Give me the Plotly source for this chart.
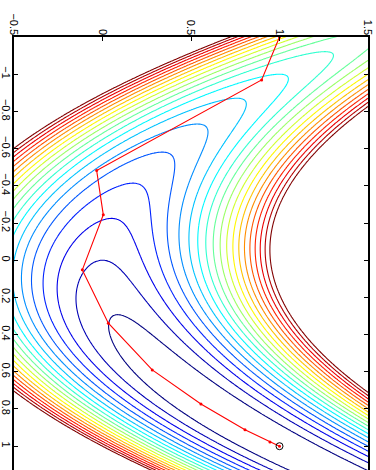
import numpy as np
import plotly.graph_objects as go

# Objective shown by the contours: f(x, y) = (1 - x)^2 + b * (y - x^2)^2
coef_b = 10.0
contour_start = 0.5
contour_end = 10.0
contour_step = 0.5

# Optimisation path (x = first variable, y = second)
path_x = [-1.2, -0.969, -0.482, -0.244, 0.052, 0.339, 0.590, 0.773, 0.912, 0.977, 1.0]
path_y = [1.0, 0.899, -0.033, 0.0045, -0.114, 0.033, 0.281, 0.556, 0.805, 0.946, 1.0]
minimum_x = [1.0]
minimum_y = [1.0]

# Axis ticks (the figure is rotated: y runs along the top, x down the side)
top_tickvals = [-0.5, 0, 0.5, 1, 1.5]
top_ticktext = ["\u22120.5", "0", "0.5", "1", "1.5"]
side_tickvals = [-1, -0.8, -0.6, -0.4, -0.2, 0, 0.2, 0.4, 0.6, 0.8, 1]
side_ticktext = ["\u22121", "\u22120.8", "\u22120.6", "\u22120.4", "\u22120.2", "0",
                 "0.2", "0.4", "0.6", "0.8", "1"]

xs = np.linspace(-1.3, 1.3, 401)
ys = np.linspace(-0.6, 1.6, 401)
XX, YY = np.meshgrid(xs, ys, indexing="ij")
Z = (1 - XX) ** 2 + coef_b * (YY - XX ** 2) ** 2

jet = [[0, "rgb(0,0,128)"], [0.125, "rgb(0,0,255)"], [0.375, "rgb(0,255,255)"],
       [0.625, "rgb(255,255,0)"], [0.875, "rgb(255,0,0)"], [1, "rgb(128,0,0)"]]

fig = go.Figure()
fig.add_trace(go.Contour(
    x=ys, y=xs, z=Z,
    contours=dict(start=contour_start, end=contour_end, size=contour_step, coloring="lines"),
    colorscale=jet, zmin=contour_start, zmax=contour_end, zauto=False,
    line=dict(width=1.1), showscale=False, hoverinfo="skip",
))
fig.add_trace(go.Scatter(
    x=path_y, y=path_x, mode="lines+markers",
    line=dict(color="red", width=1.1),
    marker=dict(color="red", size=3),
    hoverinfo="skip", showlegend=False,
))
fig.add_trace(go.Scatter(
    x=minimum_y, y=minimum_x, mode="markers",
    marker=dict(symbol="circle-open", color="black", size=7, line=dict(width=1)),
    hoverinfo="skip", showlegend=False,
))

font = dict(family="Liberation Sans, Arial, sans-serif", size=11, color="black")
fig.update_layout(
    width=376, height=470,
    margin=dict(l=14, r=8, t=37, b=0, pad=0, autoexpand=False),
    paper_bgcolor="white", plot_bgcolor="white",
    showlegend=False, font=font,
    xaxis=dict(range=[-0.5, 1.5], side="top", tickvals=top_tickvals, ticktext=top_ticktext,
               ticks="inside", ticklen=4, tickwidth=1, tickcolor="black",
               showline=True, linewidth=2, linecolor="black", mirror=False,
               showgrid=False, zeroline=False, tickangle=90, tickfont=font,
               automargin=False, ticklabelstandoff=-4),
    yaxis=dict(range=[1.128, -1.2], tickvals=side_tickvals, ticktext=side_ticktext,
               ticks="inside", ticklen=4, tickwidth=1, tickcolor="black",
               showline=True, linewidth=2, linecolor="black", mirror="ticks",
               showgrid=False, zeroline=False, tickangle=90, tickfont=font,
               automargin=False, ticklabelstandoff=-3),
)
fig.write_html("out.html",
               config={"displayModeBar": False, "staticPlot": True},
               post_script="document.body.style.margin='0';document.body.style.overflow='hidden';")
